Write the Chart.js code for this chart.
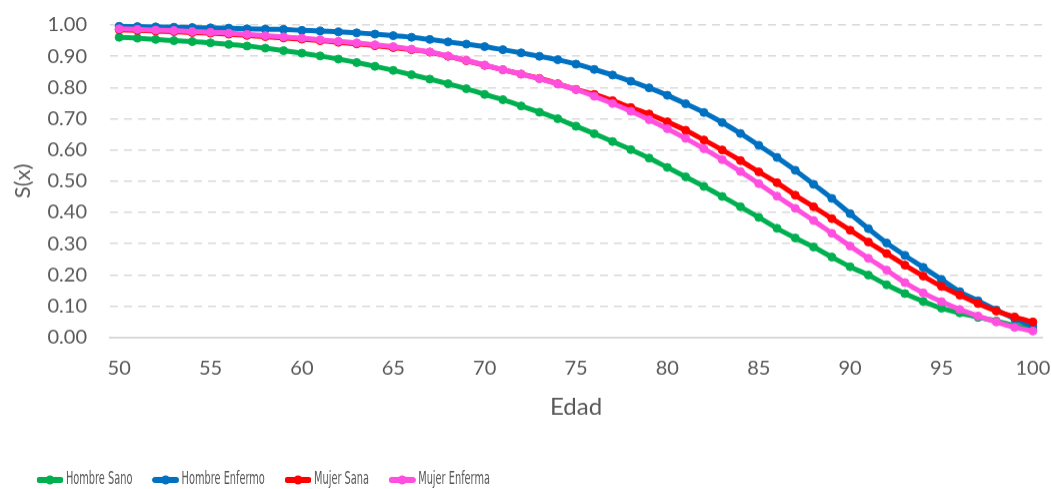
<!DOCTYPE html>
<html>
<head>
<meta charset="utf-8">
<script src="https://cdn.jsdelivr.net/npm/chart.js@4"></script>
<style>
  html, body { margin: 0; padding: 0; background: #fff; overflow: hidden; height: 489px; }
  #wrap { width: 1052px; height: 512.5px; }
</style>
</head>
<body>
<div id="wrap"><canvas id="chart"></canvas></div>
<script>
// ages 50..100
const edades = [50,51,52,53,54,55,56,57,58,59,60,61,62,63,64,65,66,67,68,69,70,71,72,73,74,75,76,77,78,79,80,81,82,83,84,85,86,87,88,89,90,91,92,93,94,95,96,97,98,99,100];

const hombreSano = [0.961,0.958,0.954,0.950,0.947,0.943,0.938,0.933,0.926,0.918,0.910,0.901,0.891,0.880,0.868,0.855,0.841,0.827,0.812,0.796,0.778,0.761,0.741,0.721,0.700,0.676,0.652,0.627,0.601,0.574,0.544,0.514,0.483,0.451,0.418,0.384,0.349,0.318,0.289,0.257,0.226,0.199,0.168,0.140,0.115,0.093,0.078,0.064,0.052,0.038,0.025];

const hombreEnfermo = [0.996,0.995,0.994,0.993,0.992,0.991,0.990,0.988,0.987,0.986,0.983,0.981,0.978,0.975,0.971,0.966,0.961,0.954,0.946,0.939,0.931,0.921,0.911,0.900,0.889,0.875,0.858,0.840,0.820,0.799,0.775,0.748,0.720,0.688,0.653,0.615,0.576,0.535,0.490,0.445,0.396,0.348,0.302,0.262,0.224,0.185,0.146,0.117,0.087,0.060,0.035];

const mujerSana = [0.985,0.983,0.981,0.979,0.976,0.974,0.971,0.967,0.963,0.959,0.955,0.950,0.945,0.940,0.934,0.928,0.921,0.913,0.900,0.886,0.871,0.857,0.843,0.829,0.812,0.794,0.778,0.758,0.736,0.715,0.690,0.663,0.632,0.600,0.566,0.530,0.495,0.455,0.418,0.380,0.343,0.305,0.268,0.231,0.196,0.163,0.135,0.108,0.084,0.065,0.049];

const mujerEnferma = [0.988,0.986,0.984,0.982,0.979,0.977,0.974,0.970,0.966,0.962,0.958,0.953,0.948,0.943,0.937,0.931,0.923,0.914,0.901,0.887,0.872,0.857,0.843,0.828,0.811,0.793,0.772,0.749,0.724,0.697,0.668,0.637,0.604,0.569,0.531,0.492,0.452,0.413,0.374,0.333,0.292,0.253,0.215,0.175,0.142,0.114,0.089,0.068,0.049,0.032,0.020];

const nombres = ["Hombre Sano", "Hombre Enfermo", "Mujer Sana", "Mujer Enferma"];
const colores = ["#00B050", "#0070C0", "#FF0000", "#FF4FDF"];
const yTicks = [0,0.1,0.2,0.3,0.4,0.5,0.6,0.7,0.8,0.9,1.0];

const gris = "#595959";

// legend text in the original is very condensed, so squeeze the legend box horizontally
const LEG_SCALE = 0.64;
const LEG_DX = 3;
const LEG_DY = -15;

// line+dot sample for the legend (drawn wide, it gets squeezed later)
function legendIcon(color) {
    const s = LEG_SCALE;
    const c = document.createElement("canvas");
    c.width = 42; c.height = 12;
    const g = c.getContext("2d");
    g.fillStyle = color;
    g.fillRect(3 / s, 3, 42 - 6 / s, 6);
    g.beginPath();
    g.ellipse(3 / s, 6, 3 / s, 3, 0, 0, Math.PI * 2);
    g.ellipse(42 - 3 / s, 6, 3 / s, 3, 0, 0, Math.PI * 2);
    g.fill();
    g.beginPath();
    g.ellipse(21, 6, 4.5 / s, 4.5, 0, 0, Math.PI * 2);
    g.fill();
    return c;
}

const squeezeLegend = {
    id: "squeezeLegend",
    afterInit: function (chart) {
        const leg = chart.legend;
        if (!leg) return;
        const origDraw = leg.draw;
        leg.draw = function () {
            const c = this.ctx;
            c.save();
            c.translate(LEG_DX, LEG_DY);
            c.scale(LEG_SCALE, 1);
            origDraw.apply(this, arguments);
            c.restore();
        };
    }
};

const series = [hombreSano, hombreEnfermo, mujerSana, mujerEnferma];
const datasets = series.map((vals, i) => ({
    label: nombres[i],
    data: vals,
    borderColor: colores[i],
    backgroundColor: colores[i],
    borderWidth: 5,
    pointRadius: 4,
    pointHoverRadius: 4,
    pointBorderWidth: 1,
    pointStyle: "circle",
    tension: 0.3,
    fill: false,
    clip: false,
    order: 4 - i   // last series on top
}));

const ctx = document.getElementById("chart").getContext("2d");
new Chart(ctx, {
    type: "line",
    data: { labels: edades, datasets: datasets },
    plugins: [squeezeLegend],
    options: {
        responsive: true,
        maintainAspectRatio: false,
        animation: false,
        layout: { autoPadding: false, padding: { left: 21.5, right: 10, top: 25, bottom: 0 } },
        plugins: {
            tooltip: { enabled: false },
            legend: {
                position: "bottom",
                align: "start",
                labels: {
                    usePointStyle: true,
                    pointStyleWidth: 33,
                    padding: 35.4,
                    color: gris,
                    font: { family: "'DejaVu Sans Condensed', 'DejaVu Sans', sans-serif", size: 17 },
                    sort: (a, b) => a.datasetIndex - b.datasetIndex,
                    generateLabels: function (chart) {
                        const items = Chart.defaults.plugins.legend.labels.generateLabels(chart);
                        items.forEach(it => { it.pointStyle = legendIcon(colores[it.datasetIndex]); });
                        return items;
                    }
                }
            }
        },
        scales: {
            x: {
                type: "category",
                offset: true,
                grid: { display: false, drawTicks: false, tickLength: 0 },
                border: { display: true, color: "#d9d9d9", width: 2 },
                ticks: {
                    autoSkip: false,
                    maxRotation: 0,
                    padding: 19,
                    color: gris,
                    font: { family: "Lato", size: 20 },
                    callback: function (v, idx) {
                        const e = edades[idx];
                        return e % 5 === 0 ? String(e) : "";
                    }
                },
                title: {
                    display: true,
                    text: "Edad",
                    color: gris,
                    font: { family: "Lato", size: 24 },
                    padding: { top: 0, bottom: 29 }
                },
                afterFit: function (scale) {
                    scale.height = 113.5;
                    scale.paddingLeft = 0;
                    scale.paddingRight = 0;
                }
            },
            y: {
                min: 0,
                max: 1,
                afterBuildTicks: function (scale) {
                    scale.ticks = yTicks.map(v => ({ value: v }));
                },
                grid: {
                    color: (c) => c.tick && c.tick.value === 0 ? "rgba(0,0,0,0)" : "#d9d9d9",
                    lineWidth: 1.5,
                    drawTicks: false
                },
                border: { display: false, dash: [8, 6] },
                ticks: {
                    padding: 23,
                    color: gris,
                    font: { family: "Lato", size: 20 },
                    callback: (v) => Number(v).toFixed(2)
                },
                title: {
                    display: true,
                    text: "S(x)",
                    color: gris,
                    font: { family: "Lato", size: 22 },
                    padding: { top: -11.7, bottom: 0 }
                },
                afterFit: function (scale) {
                    scale.width = 88.5;
                    scale.paddingTop = 0;
                    scale.paddingBottom = 0;
                }
            }
        }
    }
});
</script>
</body>
</html>
